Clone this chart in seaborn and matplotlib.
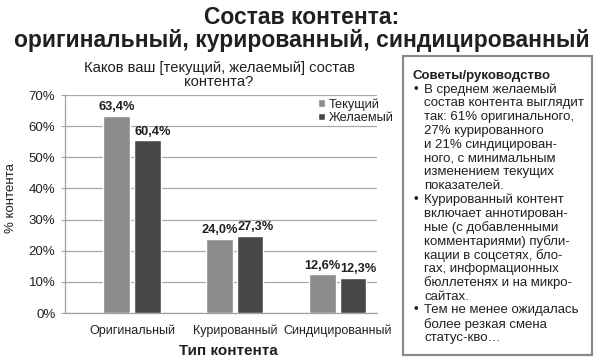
import pandas as pd
import matplotlib
matplotlib.use('Agg')
import matplotlib.pyplot as plt
import seaborn as sns
from matplotlib.patches import Rectangle

# Данные графика
categories = ['Оригинальный', 'Курированный', 'Синдицированный']
series = ['Текущий', 'Желаемый']
current = [63.4, 23.9, 12.4]   # высота столбцов, как на картинке
desired = [55.4, 24.7, 11.2]
current_labels = ['63,4%', '24,0%', '12,6%']
desired_labels = ['60,4%', '27,3%', '12,3%']
yticks = [0, 10, 20, 30, 40, 50, 60, 70]

title = 'Состав контента:\nоригинальный, курированный, синдицированный'
chart_title = 'Каков ваш [текущий, желаемый] состав\nконтента?'
box_title = 'Советы/руководство'
bullets = [
    ['В среднем желаемый', 'состав контента выглядит', 'так: 61% оригинального,',
     '27% курированного', 'и 21% синдицирован-', 'ного, с минимальным',
     'изменением текущих', 'показателей.'],
    ['Курированный контент', 'включает аннотирован-', 'ные (с добавленными',
     'комментариями) публи-', 'кации в соцсетях, бло-', 'гах, информационных',
     'бюллетенях и на микро-', 'сайтах.'],
    ['Тем не менее ожидалась', 'более резкая смена', 'статус-кво…'],
]

sns.set_style('white')
plt.rcParams['font.family'] = ['Liberation Sans', 'DejaVu Sans']
text_color = '#231f1c'

df = pd.DataFrame({
    'Тип': categories * 2,
    'Серия': [series[0]] * 3 + [series[1]] * 3,
    'Доля': current + desired,
})

W, H = 607, 364
fig = plt.figure(figsize=(W / 100, H / 100), dpi=100)
ax = fig.add_axes([65 / W, 1 - 313 / H, 312 / W, 218 / H])

sns.barplot(data=df, x='Тип', y='Доля', hue='Серия', hue_order=series,
            palette={'Текущий': '#8c8c8c', 'Желаемый': '#474747'},
            width=0.6, gap=0.15, ax=ax, zorder=3)

for cont, labels, dx in zip(ax.containers, [current_labels, desired_labels], [0, 4]):
    for patch, lab in zip(cont.patches, labels):
        ax.annotate(lab, (patch.get_x() + patch.get_width() / 2, patch.get_height()),
                    xytext=(dx, 2), textcoords='offset points', ha='center',
                    va='bottom', fontsize=9.2, fontweight='bold', color=text_color)

ax.set_xlim(-0.65, 2.38)
ax.set_ylim(0, 70)
ax.set_yticks(yticks)
ax.set_yticklabels([f'{t}%' for t in yticks])
ax.yaxis.grid(True, color='#a8a8a8', linewidth=0.9, zorder=0)
ax.tick_params(axis='y', length=3, width=0.8, color='#a0a0a0', pad=4,
               labelsize=9.5, labelcolor=text_color, left=True)
ax.tick_params(axis='x', length=0, pad=8, labelsize=9, labelcolor=text_color)
for side in ['top', 'right']:
    ax.spines[side].set_visible(False)
for side in ['left', 'bottom']:
    ax.spines[side].set_color('#a0a0a0')
    ax.spines[side].set_linewidth(0.9)

ax.set_xlabel('Тип контента', fontsize=11, fontweight='bold', color=text_color)
ax.xaxis.set_label_coords((228 - 65) / 312, -(344 - 313) / 218)
ax.set_ylabel('% контента', fontsize=9.5, color=text_color)
ax.yaxis.set_label_coords(-(65 - 17) / 312, (313 - 198) / 218)

ax.legend(loc='upper left', bbox_to_anchor=((313 - 65) / 312, 1 + (95 - 93) / 218),
          frameon=False, fontsize=9.2, handlelength=0.55, handleheight=0.55,
          handletextpad=0.3, labelspacing=0.1, borderaxespad=0,
          labelcolor=text_color)

# Заголовки
fig.text(302 / W, 1 - 29 / H, title, ha='center', va='center', fontsize=16.5,
         fontweight='bold', color=text_color, linespacing=1.0)
fig.text(219 / W, 1 - 75 / H, chart_title, ha='center', va='center',
         fontsize=10.6, color=text_color, linespacing=1.05)

# Блок с советами
fig.patches.append(Rectangle((403 / W, 1 - 355 / H), 189 / W, 299 / H,
                             transform=fig.transFigure, facecolor='white',
                             edgecolor='#8a8a8a', linewidth=1.6))
fig.text(412 / W, 1 - 76 / H, box_title, ha='left', va='center', fontsize=9.5,
         fontweight='bold', color=text_color)
y = 89.5
for block in bullets:
    fig.text(413 / W, 1 - y / H, '•', ha='left', va='center', fontsize=9.5,
             color=text_color)
    for line in block:
        fig.text(424 / W, 1 - y / H, line, ha='left', va='center', fontsize=9.5,
                 color=text_color)
        y += 13.8

fig.savefig('out.png', dpi=100)
